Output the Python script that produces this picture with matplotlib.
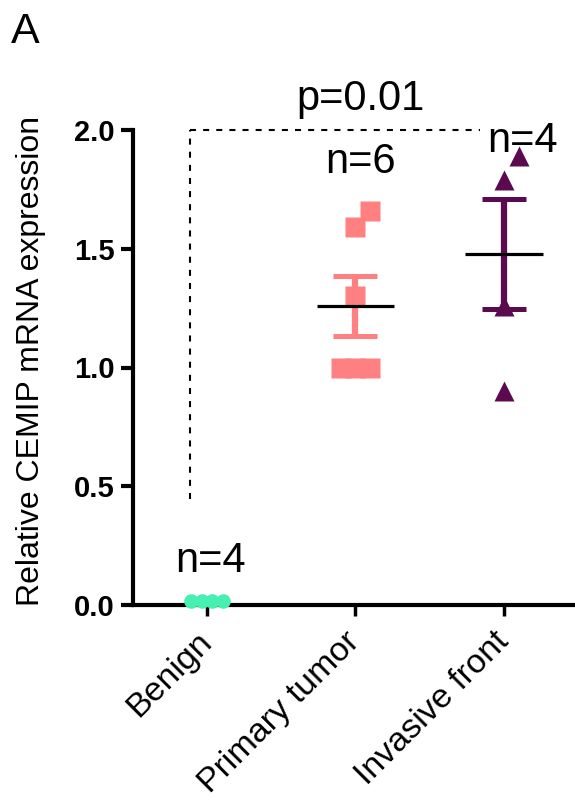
import numpy as np
import matplotlib
matplotlib.use('Agg')
import matplotlib.pyplot as plt

plt.rcParams['font.family'] = ['Liberation Sans', 'DejaVu Sans']

# Datos
grupos = ['Benign', 'Primary tumor', 'Invasive front']
benign = [0.015, 0.015, 0.015, 0.015]
benign_dx = [-0.11, -0.035, 0.035, 0.11]
primary = [1.66, 1.59, 1.30, 1.00, 1.00, 1.00]
primary_dx = [0.10, 0.0, 0.0, -0.10, 0.0, 0.10]
invasive = [1.89, 1.79, 1.26, 0.90]
invasive_dx = [0.10, 0.0, 0.0, 0.0]
medias = [1.26, 1.478]      # primary, invasive
sem = [0.126, 0.232]
n_labels = ['n=4', 'n=6', 'n=4']
p_texto = 'p=0.01'

verde = '#48EFB3'
rosa = '#FF8080'
morado = '#5C0A50'

fig = plt.figure(figsize=(5.75, 8.01), dpi=100)
ax = fig.add_axes([133/575, 1-605/801, 442/575, 475/801])

# Puntos
ax.plot(np.array(benign_dx), benign, 'o', color=verde, ms=10.5, mec='none', clip_on=False, zorder=3)
ax.plot(1 + np.array(primary_dx), primary, 's', color=rosa, ms=14.5, mec='none', clip_on=False, zorder=3)
ax.plot(2 + np.array(invasive_dx), invasive, '^', color=morado, ms=14, mec='none', clip_on=False, zorder=3)

# Media y SEM
for i, (m, s, c) in enumerate(zip(medias, sem, [rosa, morado])):
    x = i + 1
    ax.errorbar([x], [m], yerr=[s], fmt='none', ecolor=c, elinewidth=4.5,
                capsize=16, capthick=3.6, zorder=4)
    ax.hlines(m, x - 0.26, x + 0.26, color='black', lw=2.3, zorder=5)

# Línea de significancia
ax.plot([-0.115, -0.115], [0.446, 2.0], color='black', lw=1.5, dashes=(2.9, 3.4), clip_on=False)
ax.plot([-0.115, 1.84], [2.0, 2.0], color='black', lw=1.5, dashes=(2.9, 3.4), clip_on=False)

txt = dict(fontsize=30, ha='center', va='baseline')
ax.text(1.037, 2.084, p_texto, **txt)
ax.text(1.037, 1.819, n_labels[1], **txt)
ax.text(2.128, 1.907, n_labels[2], **txt)
ax.text(0.027, 0.139, n_labels[0], **txt)

# Ejes
ax.set_xlim(-0.498, 2.478)
ax.set_ylim(0, 2.0)
ax.set_yticks([0.0, 0.5, 1.0, 1.5, 2.0])
ax.set_yticklabels(['0.0', '0.5', '1.0', '1.5', '2.0'], fontsize=21, fontweight='bold')
ax.set_xticks([0, 1, 2])
ax.set_xticklabels(grupos, fontsize=24.5, rotation=45, ha='right', rotation_mode='anchor', va='center')
ax.tick_params(axis='y', length=9, width=3, pad=4)
ax.tick_params(axis='x', length=8, width=2.5, pad=15)
for lado in ['top', 'right']:
    ax.spines[lado].set_visible(False)
for lado in ['left', 'bottom']:
    ax.spines[lado].set_linewidth(3)

fig.text(31/575, 1-361/801, 'Relative CEMIP mRNA expression', rotation=90,
         fontsize=23, ha='center', va='center')
fig.text(11/575, 1-43/801, 'A', fontsize=31, va='baseline')

fig.savefig('out.png', dpi=100)
